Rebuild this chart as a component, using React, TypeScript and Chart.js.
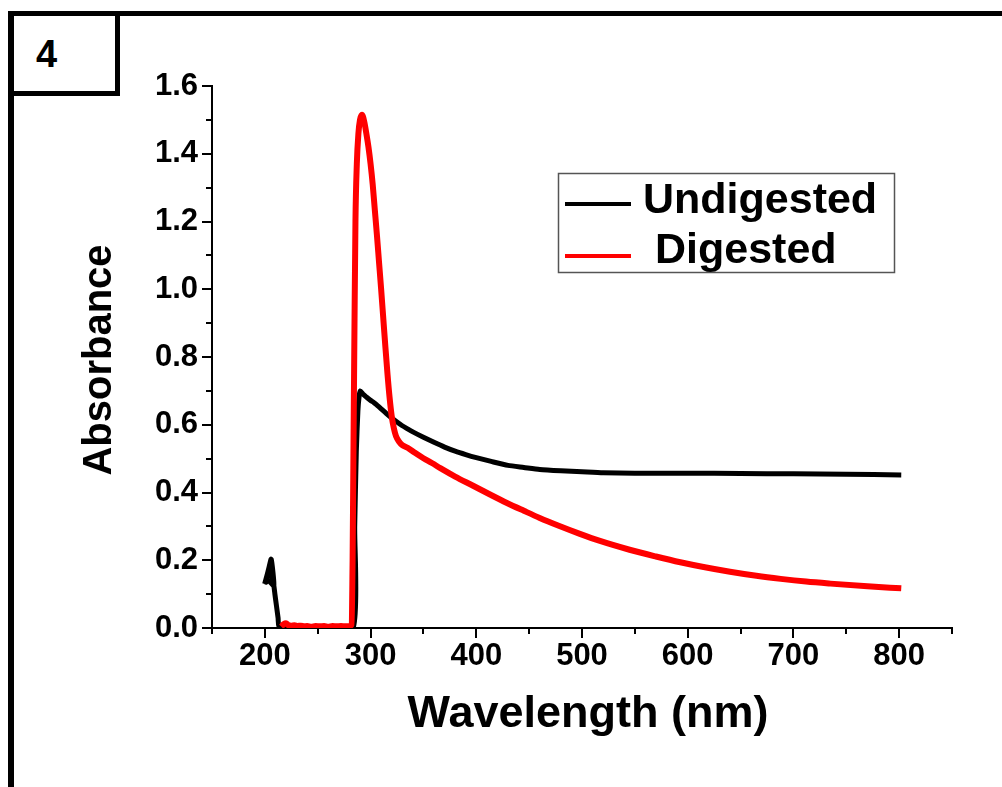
import React, { useEffect, useRef } from 'react';
import { Chart, registerables } from 'chart.js';

Chart.register(...registerables);

// ---------- data ----------
const SERIES_LABELS = ['Undigested', 'Digested'];

const UNDIGESTED_NM = [
  199.8, 202, 204, 206, 208.5, 203.5, 201, 205, 208.5, 209.5, 211, 212.5, 214, 250, 283.5, 285, 286.5, 288, 289.2, 290.3,
  293, 296, 300, 303, 306, 310, 315, 320, 325, 330, 335, 340, 350, 360, 370, 380, 390, 400,
  415, 430, 445, 460, 480, 500, 520, 550, 600, 650, 700, 750, 802,
];
const UNDIGESTED_ABS = [
  0.13, 0.155, 0.18, 0.203, 0.125, 0.14, 0.135, 0.17, 0.125, 0.1, 0.065, 0.03, 0.0, 0.0, 0.0, 0.3, 0.52, 0.64, 0.685, 0.7,
  0.69, 0.682, 0.672, 0.666, 0.658, 0.647, 0.633, 0.62, 0.608, 0.597, 0.588, 0.579, 0.563, 0.548, 0.534, 0.522, 0.512, 0.503,
  0.491, 0.48, 0.474, 0.468, 0.464, 0.461, 0.458, 0.457, 0.457, 0.456, 0.455, 0.454, 0.452,
];

const DIGESTED_NM = [
  215.5, 218, 220, 222, 225, 228, 231, 234, 237, 240, 244, 248, 252, 256, 260, 264, 268, 272, 276, 280,
  282, 283, 284, 284.8, 285.7, 287, 288.5, 290, 291.8, 294, 296, 298, 300, 302, 304, 306, 308, 310, 312,
  314, 316, 318, 320, 322, 324, 327, 330, 335, 342, 350, 358, 366, 380, 397, 413, 429, 445, 460, 478, 498,
  517, 545, 570, 593, 615, 640, 665, 688, 712, 735, 770, 802,
];
const DIGESTED_ABS = [
  0.004, 0.012, 0.014, 0.009, 0.007, 0.008, 0.006, 0.007, 0.005, 0.006, 0.004, 0.006, 0.005, 0.006, 0.004, 0.006, 0.005, 0.006, 0.005, 0.006,
  0.01, 0.2, 0.6, 0.9, 1.2, 1.37, 1.46, 1.5, 1.515, 1.495, 1.46, 1.42, 1.37, 1.31, 1.235, 1.16, 1.08, 1.0, 0.915,
  0.83, 0.75, 0.68, 0.625, 0.59, 0.567, 0.55, 0.54, 0.532, 0.517, 0.501, 0.487, 0.472, 0.447, 0.42, 0.394, 0.369, 0.346, 0.325, 0.302, 0.278,
  0.257, 0.231, 0.211, 0.194, 0.18, 0.166, 0.154, 0.145, 0.137, 0.131, 0.123, 0.117,
];

const X_MIN = 150;
const X_MAX = 850;
const Y_MIN = 0;
const Y_MAX = 1.6;
const X_MAJOR_TICKS = [200, 300, 400, 500, 600, 700, 800];
const X_MINOR_TICKS = [150, 250, 350, 450, 550, 650, 750, 850];
const Y_MAJOR_TICKS = [0, 0.2, 0.4, 0.6, 0.8, 1.0, 1.2, 1.4, 1.6];
const Y_MINOR_TICKS = [0.1, 0.3, 0.5, 0.7, 0.9, 1.1, 1.3, 1.5];

const X_TITLE = 'Wavelength (nm)';
const Y_TITLE = 'Absorbance';
const PANEL_LABEL = '4';

// ---------- styling ----------
const FONT = '"Liberation Sans", Arial, Helvetica, sans-serif';
const COLORS = ['#000000', '#ff0000'];

const decorPlugin = {
  id: 'decor',
  afterDraw(chart: any) {
    const ctx = chart.ctx as CanvasRenderingContext2D;
    const xs = chart.scales.x;
    const ys = chart.scales.y;
    const area = chart.chartArea;
    ctx.save();
    ctx.strokeStyle = '#000';
    ctx.lineWidth = 2;
    const xTick = (v: number, len: number) => {
      const px = Math.round(xs.getPixelForValue(v));
      ctx.beginPath();
      ctx.moveTo(px, area.bottom);
      ctx.lineTo(px, area.bottom + len);
      ctx.stroke();
    };
    const yTick = (v: number, len: number) => {
      const py = Math.round(ys.getPixelForValue(v));
      ctx.beginPath();
      ctx.moveTo(area.left, py);
      ctx.lineTo(area.left - len, py);
      ctx.stroke();
    };
    X_MAJOR_TICKS.forEach((v) => xTick(v, 10));
    X_MINOR_TICKS.forEach((v) => xTick(v, 6));
    Y_MAJOR_TICKS.forEach((v) => yTick(v, 10));
    Y_MINOR_TICKS.forEach((v) => yTick(v, 6));

    // axis titles
    ctx.fillStyle = '#000';
    ctx.textAlign = 'center';
    ctx.textBaseline = 'middle';
    ctx.font = `bold 45px ${FONT}`;
    ctx.fillText(X_TITLE, 588, 715);
    ctx.save();
    ctx.translate(100, 360);
    ctx.rotate(-Math.PI / 2);
    ctx.font = `bold 40px ${FONT}`;
    ctx.fillText(Y_TITLE, 0, 0);
    ctx.restore();

    // legend
    ctx.strokeStyle = '#555';
    ctx.lineWidth = 1.5;
    ctx.strokeRect(558.5, 173.5, 336, 99);
    ctx.font = `bold 43px ${FONT}`;
    ctx.textAlign = 'left';
    chart.data.datasets.forEach((ds: any, i: number) => {
      const lineY = 204 + i * 52;
      ctx.strokeStyle = ds.borderColor;
      ctx.lineWidth = 4;
      ctx.beginPath();
      ctx.moveTo(565, lineY);
      ctx.lineTo(631, lineY);
      ctx.stroke();
      ctx.fillStyle = '#000';
      ctx.fillText(ds.label, i === 0 ? 643 : 655, 201 + i * 50);
    });
    ctx.restore();
  },
};

export default function App() {
  const canvasRef = useRef<HTMLCanvasElement | null>(null);

  useEffect(() => {
    if (!canvasRef.current) return;
    const undigested = UNDIGESTED_NM.map((x, i) => ({ x, y: UNDIGESTED_ABS[i] }));
    const digested = DIGESTED_NM.map((x, i) => ({ x, y: DIGESTED_ABS[i] }));
    const chart = new Chart(canvasRef.current, {
      type: 'line',
      data: {
        datasets: [
          {
            label: SERIES_LABELS[0],
            data: undigested,
            borderColor: COLORS[0],
            backgroundColor: COLORS[0],
            borderWidth: 5,
            pointRadius: 0,
            tension: 0.2,
            borderJoinStyle: 'round',
            order: 1,
          },
          {
            label: SERIES_LABELS[1],
            data: digested,
            borderColor: COLORS[1],
            backgroundColor: COLORS[1],
            borderWidth: 6,
            pointRadius: 0,
            cubicInterpolationMode: 'monotone',
            borderJoinStyle: 'round',
            order: 0,
          },
        ],
      },
      options: {
        animation: false,
        responsive: false,
        maintainAspectRatio: false,
        devicePixelRatio: 1,
        layout: { padding: { left: 0, top: 86, right: 50, bottom: 0 } },
        plugins: { legend: { display: false }, tooltip: { enabled: false } },
        scales: {
          x: {
            type: 'linear',
            min: X_MIN,
            max: X_MAX,
            afterBuildTicks: (scale: any) => {
              scale.ticks = X_MAJOR_TICKS.map((value) => ({ value }));
            },
            afterFit: (scale: any) => {
              scale.height = 159;
            },
            grid: { display: false, drawTicks: false },
            border: { display: true, color: '#000', width: 2 },
            ticks: {
              autoSkip: false,
              maxRotation: 0,
              padding: 10,
              color: '#000',
              font: { family: FONT, size: 31, weight: 'bold' },
              callback: (v: any) => Number(v).toFixed(0),
            },
          },
          y: {
            type: 'linear',
            min: Y_MIN,
            max: Y_MAX,
            afterBuildTicks: (scale: any) => {
              scale.ticks = Y_MAJOR_TICKS.map((value) => ({ value }));
            },
            afterFit: (scale: any) => {
              scale.width = 212;
            },
            grid: { display: false, drawTicks: false },
            border: { display: true, color: '#000', width: 2 },
            ticks: {
              autoSkip: false,
              padding: 14,
              color: '#000',
              font: { family: FONT, size: 31, weight: 'bold' },
              callback: (v: any) => Number(v).toFixed(1),
            },
          },
        },
      } as any,
      plugins: [decorPlugin],
    });
    return () => chart.destroy();
  }, []);

  return (
    <div
      style={{
        position: 'absolute',
        left: 0,
        top: 0,
        width: 1002,
        height: 787,
        overflow: 'hidden',
        background: '#fff',
      }}
    >
      <div style={{ position: 'absolute', left: 8, top: 11, width: 994, height: 5, background: '#000' }} />
      <div style={{ position: 'absolute', left: 8, top: 11, width: 6, height: 776, background: '#000' }} />
      <div
        style={{
          position: 'absolute',
          left: 8,
          top: 11,
          width: 112,
          height: 85,
          border: '5px solid #000',
          boxSizing: 'border-box',
        }}
      />
      <div
        style={{
          position: 'absolute',
          left: 36,
          top: 35,
          fontFamily: FONT,
          fontWeight: 'bold',
          fontSize: 38,
          lineHeight: '38px',
          color: '#000',
        }}
      >
        {PANEL_LABEL}
      </div>
      <canvas
        ref={canvasRef}
        width={1002}
        height={787}
        style={{ position: 'absolute', left: 0, top: 0, width: 1002, height: 787, display: 'block' }}
      />
    </div>
  );
}
